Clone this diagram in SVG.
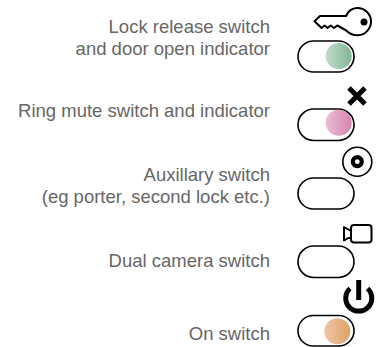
<svg xmlns="http://www.w3.org/2000/svg" width="383" height="347" viewBox="0 0 383 347">
<style>
text{font-family:"Liberation Sans",Arial,sans-serif;font-size:18.5px;fill:#666;text-anchor:end}
.sw{fill:#fff;stroke:#000;stroke-width:1.6}
.ic{fill:none;stroke:#000}
</style>
<defs>
<linearGradient id="g"><stop offset="0" stop-color="#c4dccd"/><stop offset="1" stop-color="#7fb592"/></linearGradient>
<linearGradient id="p"><stop offset="0" stop-color="#e9bdd3"/><stop offset="1" stop-color="#d883ae"/></linearGradient>
<linearGradient id="o"><stop offset="0" stop-color="#eec6ab"/><stop offset="1" stop-color="#dea264"/></linearGradient>
</defs>
<rect width="383" height="347" fill="#fff"/>
<g id="lock">
<text x="270" y="33">Lock release switch</text>
<text x="270" y="55">and door open indicator</text>
<rect class="sw" x="298" y="41" width="56" height="31" rx="15.5"/>
<circle cx="338.7" cy="56" r="13" fill="url(#g)"/>
<path class="ic" stroke-width="2" stroke-linejoin="round" d="M346 16H320L314.500 21.300L319 25.500L321.500 28L324.500 25.500L327.500 28L330.700 25.500L334 28L337.300 25.500L345.500 30C349 33.500 353.500 35.500 358 35.300C365.500 35 371 28.500 371 21.500C371 13.500 364.500 7.800 357 8C352 8.200 348 11.500 346 16Z"/>
<circle cx="364" cy="22" r="3.500" fill="#000"/>
</g>
<g id="mute">
<text x="270" y="117">Ring mute switch and indicator</text>
<rect class="sw" x="298" y="109" width="56" height="31.5" rx="15.7"/>
<circle cx="338.7" cy="122.7" r="13" fill="url(#p)"/>
<path class="ic" stroke-width="5" d="M349 88L365 104M365 88L349 104"/>
</g>
<g id="aux">
<text x="270" y="181">Auxillary switch</text>
<text x="270" y="203">(eg porter, second lock etc.)</text>
<rect class="sw" x="298" y="178" width="56" height="31" rx="15.5"/>
<circle class="ic" stroke-width="1.6" cx="357.300" cy="161.700" r="14.500"/>
<circle class="ic" stroke="#333" stroke-width="4.200" cx="357.300" cy="161.700" r="4.500"/>
</g>
<g id="camera">
<text x="270" y="266.500">Dual camera switch</text>
<rect class="sw" x="298" y="246" width="56" height="31.5" rx="15.7"/>
<path class="ic" stroke-width="2" stroke-linejoin="round" d="M354 225H368.500Q371.500 225 371.500 228V239.500Q371.500 242.500 368.500 242.500H354Q351 242.500 351 239.500V228Q351 225 354 225ZM351 231L344 227V240.500L351 236.500"/>
</g>
<g id="on">
<text x="270" y="339.500">On switch</text>
<rect class="sw" x="298" y="315.500" width="56" height="30.500" rx="15.200"/>
<circle cx="337.300" cy="331.300" r="13" fill="url(#o)"/>
<path class="ic" stroke-width="5" d="M358.700 280V300M350 288.500A13 13 0 1 0 367.500 288.500"/>
</g>
</svg>
